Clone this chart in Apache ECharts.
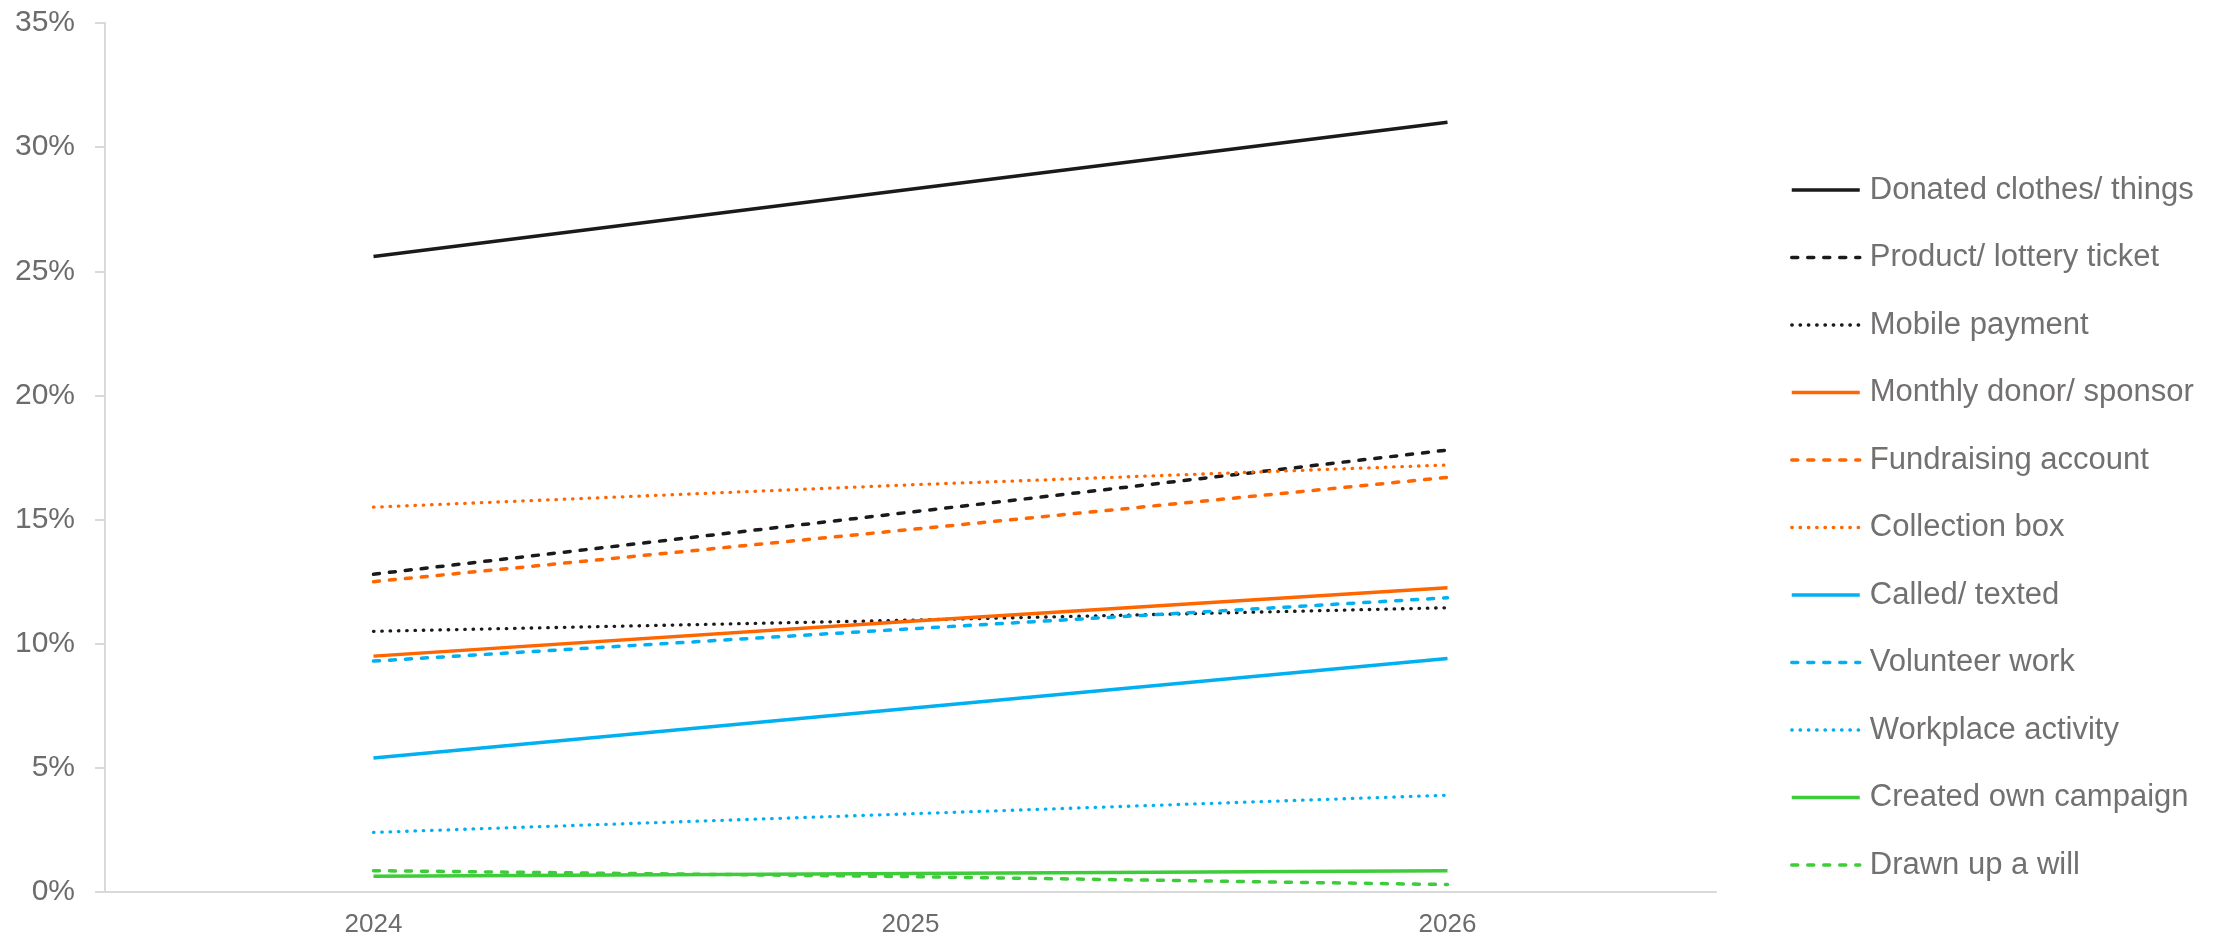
<!DOCTYPE html>
<html>
<head>
<meta charset="utf-8">
<script src="https://cdn.jsdelivr.net/npm/echarts@6/dist/echarts.min.js"></script>
<style>
  html, body { margin: 0; padding: 0; background: #fff; }
  #chart { width: 2231px; height: 938px; }
</style>
</head>
<body>
<div id="chart"></div>
<script>
// data (values in %)
var years = ["2024", "2025", "2026"];
var seriesNames = [
  "Donated clothes/ things",
  "Product/ lottery ticket",
  "Mobile payment",
  "Monthly donor/ sponsor",
  "Fundraising account",
  "Collection box",
  "Called/ texted",
  "Volunteer work",
  "Workplace activity",
  "Created own campaign",
  "Drawn up a will"
];
var donatedClothes = [25.6, 28.3, 31.0];
var productLottery = [12.8, 15.3, 17.8];
var mobilePayment = [10.5, 10.95, 11.45];
var monthlyDonor = [9.5, 10.9, 12.25];
var fundraisingAccount = [12.5, 14.6, 16.7];
var collectionBox = [15.5, 16.4, 17.2];
var calledTexted = [5.4, 7.4, 9.4];
var volunteerWork = [9.3, 10.6, 11.85];
var workplaceActivity = [2.4, 3.15, 3.9];
var createdCampaign = [0.63, 0.75, 0.86];
var drawnWill = [0.86, 0.62, 0.3];
var yTicks = [0, 5, 10, 15, 20, 25, 30, 35];

var black = "#1a1a1a", orange = "#ff6600", blue = "#00b0f0", green = "#3fcc3a";
var dashed = [6, 10], dotted = [0.5, 7.8];

var values = [donatedClothes, productLottery, mobilePayment, monthlyDonor,
  fundraisingAccount, collectionBox, calledTexted, volunteerWork,
  workplaceActivity, createdCampaign, drawnWill];
var colors = [black, black, black, orange, orange, orange, blue, blue, blue, green, green];
var dashes = ["solid", dashed, dotted, "solid", dashed, dotted, "solid", dashed, dotted, "solid", dashed];

var myChart = echarts.init(document.getElementById("chart"));

var series = [];
for (var i = 0; i < seriesNames.length; i++) {
  series.push({
    name: seriesNames[i],
    type: "line",
    data: values[i],
    symbol: "none",
    showSymbol: false,
    silent: true,
    color: colors[i],
    lineStyle: {
      width: dashes[i] === dotted ? 3.3 : 3.5,
      color: colors[i],
      type: dashes[i],
      cap: dashes[i] === "solid" ? "butt" : "round"
    }
  });
}

var option = {
  animation: false,
  grid: { left: 105, right: 515, top: 23, bottom: 46, containLabel: false },
  legend: {
    orient: "vertical",
    left: 1790,
    top: 174,
    padding: 0,
    itemWidth: 68,
    itemHeight: 14,
    itemGap: 35.5,
    data: seriesNames,
    itemStyle: { opacity: 0 },
    lineStyle: { width: "inherit" },
    textStyle: { fontFamily: "Liberation Sans, Arial", fontSize: 31, lineHeight: 32, color: "#737070", padding: [0, 0, 0, 5] }
  },
  xAxis: {
    type: "category",
    data: years,
    boundaryGap: true,
    axisLine: { lineStyle: { color: "#d9d9d9", width: 2 } },
    axisTick: { show: false },
    axisLabel: { fontFamily: "Liberation Sans, Arial", fontSize: 26, color: "#6e6b6b", margin: 20 },
    splitLine: { show: false }
  },
  yAxis: {
    type: "value",
    min: yTicks[0],
    max: yTicks[yTicks.length - 1],
    interval: 5,
    axisLine: { show: true, lineStyle: { color: "#d9d9d9", width: 2 } },
    axisTick: { show: true, length: 10, lineStyle: { color: "#d9d9d9", width: 2 } },
    axisLabel: { fontFamily: "Liberation Sans, Arial", fontSize: 30, color: "#6e6b6b", margin: 30, formatter: "{value}%" },
    splitLine: { show: false }
  },
  series: series
};

option && myChart.setOption(option);
</script>
</body>
</html>
